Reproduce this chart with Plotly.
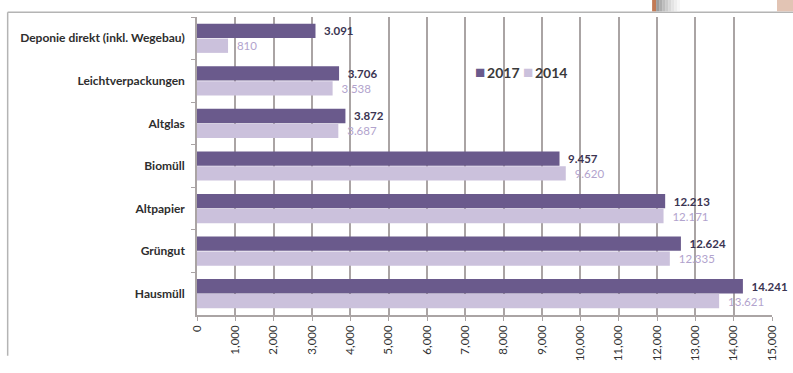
import plotly.graph_objects as go

# Abfallmengen nach Fraktion (Tonnen)
categories = [
    "Deponie direkt (inkl. Wegebau)",
    "Leichtverpackungen",
    "Altglas",
    "Biomüll",
    "Altpapier",
    "Grüngut",
    "Hausmüll",
]
values_2017 = [3091, 3706, 3872, 9457, 12213, 12624, 14241]
values_2014 = [810, 3538, 3687, 9620, 12171, 12335, 13621]
x_ticks = list(range(0, 15001, 1000))

W, H = 793, 373
L, R, T, B = 196.5, 21, 17, 41
PW, PH = W - L - R, H - T - B


def px(x):
    return (x - L) / PW


def py(y):
    return (H - B - y) / PH


def de(v):
    # deutsche Tausendertrennung, mit Abstand zum Balkenende
    return "\u00a0\u00a0" + f"{v:,}".replace(",", ".")


FONT = "Lato"
DARK = "#6a5a8c"
LIGHT = "#cbc1dc"
GRID = "#aaa4a4"

fig = go.Figure()
fig.add_trace(go.Bar(
    name="2017", y=categories, x=values_2017, orientation="h",
    marker=dict(color=DARK, line=dict(width=0)),
    text=[de(v) for v in values_2017], textposition="outside",
    textfont=dict(family=FONT, size=11.5, color="#3b3452", weight="bold"),
    cliponaxis=False, showlegend=False,
))
fig.add_trace(go.Bar(
    name="2014", y=categories, x=values_2014, orientation="h",
    marker=dict(color=LIGHT, line=dict(width=0)),
    text=[de(v) for v in values_2014], textposition="outside",
    textfont=dict(family=FONT, size=11.5, color="#b2a3cd"),
    cliponaxis=False, showlegend=False,
))

# Rahmen und Dekoration oben rechts
shapes = [
    dict(type="line", xref="paper", yref="paper", x0=px(7), x1=px(W + 2), y0=py(12), y1=py(12),
         line=dict(color="#b4b4b4", width=1.5)),
    dict(type="line", xref="paper", yref="paper", x0=px(7), x1=px(7), y0=py(12), y1=py(H + 2),
         line=dict(color="#b4b4b4", width=1.5)),
    dict(type="rect", xref="paper", yref="paper", x0=px(652), x1=px(656), y0=py(11), y1=py(-2),
         fillcolor="#c27a55", line=dict(width=0)),
    dict(type="rect", xref="paper", yref="paper", x0=px(777), x1=px(W + 2), y0=py(11), y1=py(-2),
         fillcolor="#e2c4b4", line=dict(width=0)),
]
grad = ["#9c9c9c", "#adadad", "#bdbdbd", "#cbcbcb", "#d8d8d8", "#e4e4e4", "#eeeeee", "#f7f7f7"]
for i, c in enumerate(grad):
    shapes.append(dict(type="rect", xref="paper", yref="paper",
                       x0=px(656 + i * 3), x1=px(659 + i * 3), y0=py(11), y1=py(-2),
                       fillcolor=c, line=dict(width=0)))

# Legende als Textzeile
legend_text = (
    f"<span style='color:{DARK};font-size:17px'>■</span>\u2009{2017} "
    f"<span style='color:{LIGHT};font-size:17px'>■</span>\u2009{2014}"
)

fig.update_layout(
    width=W, height=H,
    margin=dict(l=L, r=R, t=T, b=B, pad=0),
    paper_bgcolor="white", plot_bgcolor="white",
    barmode="group", bargap=0.3, bargroupgap=0.04,
    font=dict(family=FONT, color="#333333"),
    annotations=[dict(
        xref="paper", yref="paper", x=px(473), y=py(75), xanchor="left", yanchor="middle",
        text=legend_text, showarrow=False,
        font=dict(family=FONT, size=14, color="#3a3a3a", weight="bold"),
    )],
    xaxis=dict(
        range=[0, 15000], tickvals=x_ticks, tickformat=",", tickangle=-90,
        showgrid=True, gridcolor=GRID, gridwidth=1.5,
        showline=True, linecolor=GRID, linewidth=1.5,
        ticks="outside", ticklen=4, tickcolor=GRID,
        tickfont=dict(family=FONT, size=11.5, color="#333333"),
        zeroline=False, fixedrange=True,
    ),
    yaxis=dict(
        categoryorder="array", categoryarray=categories, autorange="reversed",
        showline=True, linecolor=GRID, linewidth=1.5,
        ticks="outside", ticklen=4, tickcolor=GRID, tickson="boundaries",
        tickfont=dict(family=FONT, size=12, color="#2e2e2e", weight="bold"),
        ticklabelstandoff=8, fixedrange=True,
    ),
    shapes=shapes,
)

fig.write_html("out.html")
